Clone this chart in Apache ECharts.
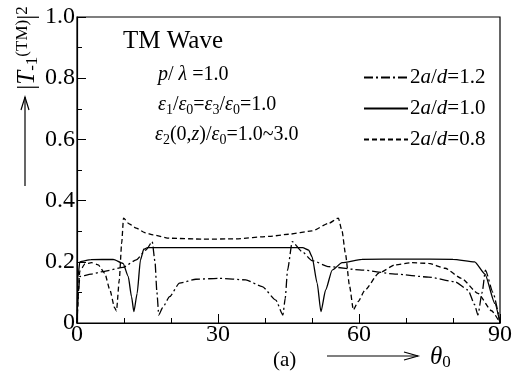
<!DOCTYPE html>
<html>
<head>
<meta charset="utf-8">
<script src="https://cdn.jsdelivr.net/npm/echarts@6/dist/echarts.min.js"></script>
<style>
  html, body { margin: 0; padding: 0; background: #fff; }
  #chart { width: 515px; height: 378px; }
</style>
</head>
<body>
<div id="chart"></div>
<script>
// 2a/d = 1.2 (dash-dot)
const thetaA = [0, 0.3, 0.6, 3, 5.6, 9.8, 12.6, 14.7, 16.0, 16.6, 17.0, 17.4, 18.2, 19.7, 21.8, 25.3, 30.3, 35.9, 39.4, 42.3, 43.8, 44.3, 44.8, 45.8, 47.9, 50, 53.6, 60.6, 67.7, 74.8, 80.4, 83.2, 84.6, 85.3, 86.2, 86.9, 88.5, 90];
const valA   = [0, 0.10, 0.152, 0.16, 0.168, 0.182, 0.206, 0.239, 0.266, 0.20, 0.10, 0.026, 0.05, 0.086, 0.13, 0.143, 0.146, 0.141, 0.119, 0.075, 0.026, 0.08, 0.173, 0.266, 0.233, 0.204, 0.184, 0.173, 0.16, 0.15, 0.135, 0.108, 0.06, 0.026, 0.10, 0.173, 0.10, 0];
// 2a/d = 1.0 (solid)
const thetaB = [0, 0.2, 0.6, 3, 7.7, 9.8, 10.9, 11.6, 12.1, 12.8, 13.5, 14.2, 15.0, 20, 30, 40, 48, 49.3, 50.0, 51.1, 51.9, 52.9, 54.3, 56.4, 60.6, 70, 80, 84.6, 86.8, 88.9, 90];
const valB   = [0, 0.15, 0.20, 0.207, 0.208, 0.195, 0.152, 0.086, 0.037, 0.097, 0.206, 0.241, 0.246, 0.246, 0.246, 0.246, 0.246, 0.238, 0.217, 0.13, 0.037, 0.108, 0.173, 0.197, 0.208, 0.209, 0.208, 0.200, 0.16, 0.064, 0];
// 2a/d = 0.8 (dashed)
const thetaC = [0, 0.6, 1.7, 3.1, 4.5, 5.9, 7.0, 8.0, 8.4, 9.0, 9.5, 9.9, 11, 12.6, 14.5, 16.2, 19.7, 26.8, 33.8, 40.9, 45, 50, 53.6, 55.6, 56.4, 57.1, 58, 58.8, 59.8, 61.3, 64.2, 67.7, 71.2, 74.8, 78.3, 81.8, 85.3, 88.2, 90];
const valC   = [0, 0.17, 0.193, 0.197, 0.19, 0.163, 0.108, 0.05, 0.04, 0.141, 0.26, 0.343, 0.325, 0.31, 0.295, 0.288, 0.277, 0.274, 0.275, 0.283, 0.29, 0.301, 0.326, 0.343, 0.30, 0.228, 0.12, 0.043, 0.07, 0.108, 0.163, 0.19, 0.197, 0.195, 0.179, 0.146, 0.097, 0.04, 0];

const seriesNames = ['r12', 'r10', 'r08'];
const legendTexts = ['2{i|a}/{i|d}=1.2', '2{i|a}/{i|d}=1.0', '2{i|a}/{i|d}=0.8'];
const xTickLabels = ['0', '30', '60', '90'];
const yTickLabels = ['0', '0.2', '0.4', '0.6', '0.8', '1.0'];

const FONT = 'Liberation Serif';
const pairs = (xs, ys) => xs.map((x, i) => [x, ys[i]]);

// rich styles for the annotation texts
const mkRich = (big, small) => ({
  n: {fontFamily: FONT, fontSize: big, lineHeight: big + 2, verticalAlign: 'top', color: '#000'},
  i: {fontFamily: FONT, fontSize: big, lineHeight: big + 2, verticalAlign: 'top', fontStyle: 'italic', color: '#000'},
  s: {fontFamily: FONT, fontSize: small, lineHeight: 10, verticalAlign: 'bottom', color: '#000'},
  p: {fontFamily: FONT, fontSize: small, lineHeight: 10, verticalAlign: 'top', color: '#000'}
});
const rich = mkRich(20, 14);
const richBig = mkRich(25, 17);

const txt = (x, y, text, r, align, extra) => Object.assign({
  type: 'text', x: x, y: y,
  style: {text: text, rich: r, align: align || 'left', verticalAlign: 'middle'}
}, extra || {});

const lineSeries = (name, xs, ys, dash) => ({
  name: name,
  type: 'line',
  data: pairs(xs, ys),
  symbol: 'none',
  showSymbol: false,
  smooth: 0.2,
  smoothMonotone: 'x',
  lineStyle: {color: '#000', width: 1.3, type: dash},
  itemStyle: {color: '#000'}
});

const chart = echarts.init(document.getElementById('chart'));
chart.setOption({
  animation: false,
  backgroundColor: '#fff',
  grid: {left: 77, right: 13, top: 17, bottom: 55, show: true, borderColor: '#000', borderWidth: 1.2},
  xAxis: {
    type: 'value', min: 0, max: 90, interval: 30,
    axisLine: {lineStyle: {color: '#000', width: 1.2}},
    axisTick: {inside: true, length: 9, lineStyle: {color: '#000'}},
    minorTick: {show: true, splitNumber: 3, length: 5, lineStyle: {color: '#000'}},
    splitLine: {show: false},
    axisLabel: {
      margin: 0, color: '#000', fontFamily: FONT, fontSize: 24,
      formatter: v => xTickLabels[Math.round(v / 30)]
    }
  },
  yAxis: {
    type: 'value', min: 0, max: 1, interval: 0.2,
    axisLine: {lineStyle: {color: '#000', width: 1.2}},
    axisTick: {inside: true, length: 9, lineStyle: {color: '#000'}},
    minorTick: {show: true, splitNumber: 2, length: 5, lineStyle: {color: '#000'}},
    splitLine: {show: false},
    axisLabel: {
      margin: 2, color: '#000', fontFamily: FONT, fontSize: 24,
      formatter: v => yTickLabels[Math.round(v / 0.2)]
    }
  },
  legend: {
    orient: 'vertical', left: 363, top: 67,
    itemWidth: 44, itemHeight: 12, itemGap: 10, padding: 0,
    itemStyle: {opacity: 0, borderWidth: 0},
    data: seriesNames,
    formatter: name => legendTexts[seriesNames.indexOf(name)],
    textStyle: {
      fontFamily: FONT, fontSize: 21, lineHeight: 20, color: '#000', padding: [0, 0, 0, -3],
      rich: {i: {fontFamily: FONT, fontSize: 21, fontStyle: 'italic', color: '#000'}}
    }
  },
  series: [
    lineSeries(seriesNames[0], thetaA, valA, [9, 3, 2, 3]),
    lineSeries(seriesNames[1], thetaB, valB, 'solid'),
    lineSeries(seriesNames[2], thetaC, valC, [5, 3])
  ],
  graphic: [
    {type: 'text', x: 123, y: 41,
      style: {text: 'TM Wave', fontFamily: FONT, fontSize: 25, fill: '#000', verticalAlign: 'middle'}},
    txt(158, 76, '{i|p}{n|/ }{i|λ}{n| =1.0}', rich),
    txt(158, 106, '{i|ε}{s|1}{n|/}{i|ε}{s|0}{n|=}{i|ε}{s|3}{n|/}{i|ε}{s|0}{n|=1.0}', rich),
    txt(155, 136, '{i|ε}{s|2}{n|(0,}{i|z}{n|)/}{i|ε}{s|0}{n|=1.0~3.0}', rich),
    // y axis title, rotated
    txt(28, 48, '{n||}{i|T}{s|-1}{p|(TM)}{n||}{p|2}', richBig, 'center', {rotation: Math.PI / 2}),
    // arrows
    {type: 'line', shape: {x1: 25, y1: 186, x2: 25, y2: 97}, style: {stroke: '#000', lineWidth: 1.2}},
    {type: 'polyline', shape: {points: [[21, 110], [25, 97], [29, 110]]}, style: {stroke: '#000', fill: null, lineWidth: 1.2}},
    {type: 'line', shape: {x1: 327, y1: 356, x2: 418, y2: 356}, style: {stroke: '#000', lineWidth: 1.2}},
    {type: 'polyline', shape: {points: [[404, 352], [418, 356], [404, 360]]}, style: {stroke: '#000', fill: null, lineWidth: 1.2}},
    {type: 'text', x: 273, y: 360,
      style: {text: '(a)', fontFamily: FONT, fontSize: 21, fill: '#000', verticalAlign: 'middle'}},
    txt(430, 358, '{i|θ}{s|0}', richBig)
  ]
});
</script>
</body>
</html>
